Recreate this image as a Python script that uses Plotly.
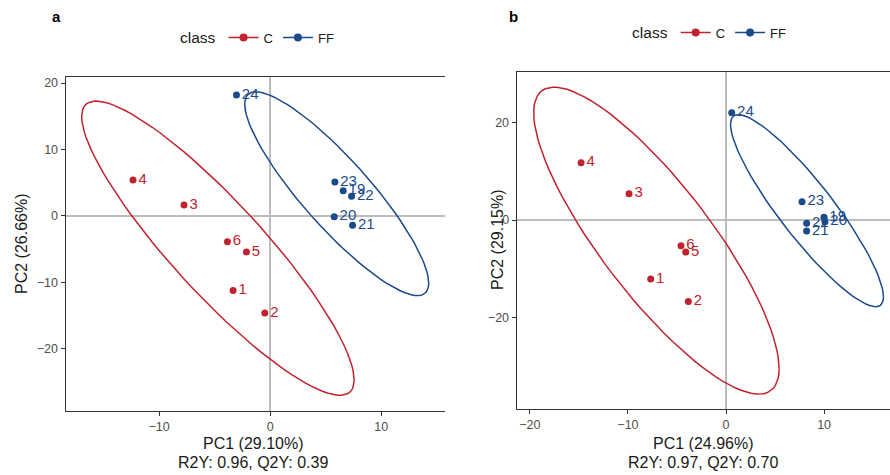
import numpy as np
import plotly.graph_objects as go

# ---------------- data ----------------
# panel a
a_C_labels = ["1", "2", "3", "4", "5", "6"]
a_C_x = [-3.33, -0.48, -7.75, -12.34, -2.13, -3.84]
a_C_y = [-11.2, -14.6, 1.65, 5.41, -5.41, -3.86]
a_FF_labels = ["19", "20", "21", "22", "23", "24"]
a_FF_x = [6.58, 5.77, 7.42, 7.33, 5.83, -3.03]
a_FF_y = [3.8, -0.1, -1.4, 2.96, 5.11, 18.2]
# panel b
b_C_labels = ["1", "2", "3", "4", "5", "6"]
b_C_x = [-7.68, -3.84, -9.89, -14.78, -4.11, -4.59]
b_C_y = [-12.08, -16.7, 5.39, 11.73, -6.55, -5.25]
b_FF_labels = ["19", "20", "21", "22", "23", "24"]
b_FF_x = [9.99, 10.09, 8.22, 8.22, 7.75, 0.58]
b_FF_y = [0.55, -0.35, -2.25, -0.68, 3.75, 21.96]

a_xtitle = ["PC1 (29.10%)", "R2Y: 0.96, Q2Y: 0.39"]
a_ytitle = "PC2 (26.66%)"
b_xtitle = ["PC1 (24.96%)", "R2Y: 0.97, Q2Y: 0.70"]
b_ytitle = "PC2 (29.15%)"
classes = ["C", "FF"]

RED = "#C0232F"
BLUE = "#1B4A8A"
FONT = "Liberation Sans, Arial, sans-serif"


# ---------------- ellipse (like ggplot2 stat_ellipse, type 't', level 0.95) ----
def cov_trob(x, nu=5, maxit=25, tol=0.01):
    x = np.asarray(x, float)
    n, p = x.shape
    wt = np.ones(n)
    loc = (wt[:, None] * x).sum(0) / wt.sum()
    w = np.sqrt(wt)
    X = x - loc
    for _ in range(maxit):
        w0 = w
        X = x - loc
        A = np.sqrt(w / w.sum())[:, None] * X
        _, d, Vt = np.linalg.svd(A, full_matrices=False)
        wX = X @ Vt.T @ np.diag(1 / d)
        Q = (wX ** 2).sum(1)
        w = (wt * (nu + p)) / (nu + Q)
        loc = (w[:, None] * x).sum(0) / w.sum()
        if np.all(np.abs(w - w0) < tol):
            break
    sX = np.sqrt(w)[:, None] * X
    cov = sX.T @ sX / wt.sum()
    return loc, cov


def ellipse(xs, ys, level=0.95, segments=100):
    pts = np.column_stack([xs, ys])
    center, shape = cov_trob(pts)
    dfn = 2
    dfd = len(xs) - 1
    fq = (dfd / 2.0) * ((1 - level) ** (-2.0 / dfd) - 1)  # qf for dfn = 2
    radius = np.sqrt(dfn * fq)
    R = np.linalg.cholesky(shape).T
    ang = np.linspace(0, 2 * np.pi, segments + 1)
    circ = np.column_stack([np.cos(ang), np.sin(ang)])
    e = center + radius * (circ @ R)
    return e[:, 0], e[:, 1]


fig = go.Figure()

panels = [
    dict(xa="x", ya="y", leg="legend",
         groups=[(a_C_x, a_C_y, a_C_labels, RED), (a_FF_x, a_FF_y, a_FF_labels, BLUE)]),
    dict(xa="x2", ya="y2", leg="legend2",
         groups=[(b_C_x, b_C_y, b_C_labels, RED), (b_FF_x, b_FF_y, b_FF_labels, BLUE)]),
]

for pnl in panels:
    for (gx, gy, glab, col) in pnl["groups"]:
        ex, ey = ellipse(gx, gy)
        fig.add_trace(go.Scatter(x=ex, y=ey, mode="lines", xaxis=pnl["xa"], yaxis=pnl["ya"],
                                 line=dict(color=col, width=1.5), showlegend=False,
                                 hoverinfo="skip"))
        fig.add_trace(go.Scatter(x=gx, y=gy, mode="markers+text", text=glab,
                                 textposition="middle right",
                                 textfont=dict(color=col, size=15, family=FONT),
                                 xaxis=pnl["xa"], yaxis=pnl["ya"],
                                 marker=dict(color=col, size=7), showlegend=False))
    for cname, col in zip(classes, [RED, BLUE]):
        fig.add_trace(go.Scatter(x=[None], y=[None], mode="lines+markers", name=cname,
                                 xaxis=pnl["xa"], yaxis=pnl["ya"], legend=pnl["leg"],
                                 line=dict(color=col, width=1.5),
                                 marker=dict(color=col, size=8)))

axis_common = dict(showgrid=False, showline=True, linecolor="#333333", linewidth=1.3,
                   ticks="outside", ticklen=4, tickwidth=1.1, tickcolor="#333333",
                   tickfont=dict(size=12.5, color="#4D4D4D", family=FONT),
                   zeroline=True, zerolinecolor="#BDBDBD", zerolinewidth=1.6)

fig.update_layout(
    width=890, height=475, margin=dict(l=0, r=0, t=0, b=0),
    paper_bgcolor="white", plot_bgcolor="white",
    font=dict(family=FONT, color="#1A1A1A"),
    xaxis=dict(axis_common, domain=[0.0738, 0.5], range=[-18.4, 15.74], dtick=10,
               mirror=True, anchor="y"),
    yaxis=dict(axis_common, domain=[0.1354, 0.8373], range=[-29.28, 20.86], dtick=10,
               anchor="x"),
    xaxis2=dict(axis_common, domain=[0.5806, 1.0], range=[-21.34, 16.72], dtick=10,
                mirror=True, anchor="y2"),
    yaxis2=dict(axis_common, domain=[0.1389, 0.8478], range=[-38.69, 30.24], dtick=20,
                anchor="x2"),
    legend=dict(orientation="h", x=0.200, y=1 - 38 / 475, xanchor="left", yanchor="middle",
                title=dict(text="class", side="left", font=dict(size=15.5, family=FONT)),
                font=dict(size=13, family=FONT), itemwidth=30, bgcolor="rgba(0,0,0,0)"),
    legend2=dict(orientation="h", x=0.708, y=1 - 33 / 475, xanchor="left", yanchor="middle",
                 title=dict(text="class", side="left", font=dict(size=15.5, family=FONT)),
                 font=dict(size=13, family=FONT), itemwidth=30, bgcolor="rgba(0,0,0,0)"),
)

ann = []
# panel tags
for t, px in [("<b>a</b>", 57), ("<b>b</b>", 513)]:
    ann.append(dict(text=t, x=px / 890, y=1 - 17 / 475, xref="paper", yref="paper",
                    xanchor="center", yanchor="middle",
                    showarrow=False, font=dict(size=15, family=FONT, color="black")))
# x titles
for cx, lines in [(253 / 890, a_xtitle), (703 / 890, b_xtitle)]:
    for yy, t in zip([443, 462], lines):
        ann.append(dict(text=t, x=cx, y=1 - yy / 475, xref="paper", yref="paper",
                        xanchor="center", yanchor="middle",
                        showarrow=False, font=dict(size=16, family=FONT, color="#1A1A1A")))
# y titles
for cx, cy, t in [(22 / 890, 244, a_ytitle), (497 / 890, 240, b_ytitle)]:
    ann.append(dict(text=t, x=cx, y=1 - cy / 475, xref="paper", yref="paper", textangle=-90,
                    xanchor="center", yanchor="middle",
                    showarrow=False, font=dict(size=16, family=FONT, color="#1A1A1A")))
fig.update_layout(annotations=ann)

fig.write_html("out.html")
